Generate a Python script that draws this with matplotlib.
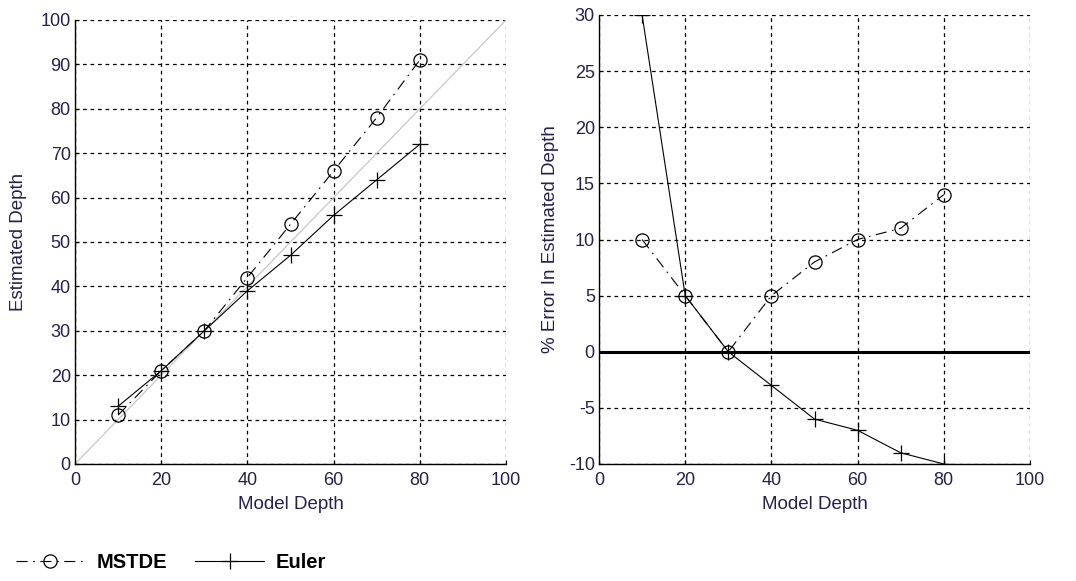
import numpy as np
import matplotlib.pyplot as plt

model_depth = [10, 20, 30, 40, 50, 60, 70, 80]
mstde_depth = [11, 21, 30, 42, 54, 66, 78, 91]
euler_depth = [13, 21, 30, 39, 47, 56, 64, 72]
mstde_err = [10, 5, 0, 5, 8, 10, 11, 14]
euler_err = [30, 5, 0, -3, -6, -7, -9, -10]

text_col = '#26204a'

plt.rcParams.update({
    'font.family': ['Liberation Sans', 'DejaVu Sans'],
    'font.size': 13,
    'axes.unicode_minus': False,
    'xtick.color': 'black',
    'ytick.color': 'black',
    'xtick.labelcolor': text_col,
    'ytick.labelcolor': text_col,
    'xtick.direction': 'in',
    'ytick.direction': 'in',
    'xtick.major.size': 3,
    'ytick.major.size': 3,
})

W, H = 1076, 581
fig = plt.figure(figsize=(W / 100, H / 100), dpi=100)

dashdot = (0, (10, 5, 1.5, 5))


def make_axes(x0, y0, x1, y1):
    return fig.add_axes([x0 / W, 1 - y1 / H, (x1 - x0) / W, (y1 - y0) / H])


def style(ax):
    ax.grid(True, color='black', linestyle=(0, (3, 3)), linewidth=0.9)
    ax.set_axisbelow(True)
    for s in ['top', 'right']:
        ax.spines[s].set_visible(False)
    for s in ['left', 'bottom']:
        ax.spines[s].set_linewidth(1.0)
    ax.tick_params(labelsize=13)
    ax.tick_params(axis='x', pad=6)
    ax.tick_params(axis='y', pad=3)


# left panel
ax1 = make_axes(75, 20, 506, 464)
ax1.plot([0, 100], [0, 100], color='#c8c8c8', linewidth=0.9)
m_line, = ax1.plot(model_depth, mstde_depth, color='black', linestyle=dashdot,
                   linewidth=0.8, marker='o', markersize=9.5,
                   markerfacecolor='none', markeredgewidth=0.9)
e_line, = ax1.plot(model_depth, euler_depth, color='black', linestyle='-',
                   linewidth=0.8, marker='+', markersize=11,
                   markeredgewidth=0.9)
ax1.set_xlim(0, 100)
ax1.set_ylim(0, 100)
ax1.set_xticks(np.arange(0, 101, 20))
ax1.set_yticks(np.arange(0, 101, 10))
style(ax1)
ax1.set_xlabel('Model Depth', fontsize=13.5, color=text_col, labelpad=5)
ax1.set_ylabel('Estimated Depth', fontsize=13.5, color=text_col, labelpad=10)

# right panel
ax2 = make_axes(599, 15, 1030, 464)
ax2.axhline(0, color='black', linewidth=2.2)
ax2.plot(model_depth, mstde_err, color='black', linestyle=dashdot,
         linewidth=0.8, marker='o', markersize=9.5,
         markerfacecolor='none', markeredgewidth=0.9)
ax2.plot(model_depth, euler_err, color='black', linestyle='-',
         linewidth=0.8, marker='+', markersize=11, markeredgewidth=0.9)
ax2.set_xlim(0, 100)
ax2.set_ylim(-10, 30)
ax2.set_xticks(np.arange(0, 101, 20))
ax2.set_yticks(np.arange(-10, 31, 5))
style(ax2)
ax2.set_xlabel('Model Depth', fontsize=13.5, color=text_col, labelpad=5)
ax2.set_ylabel('% Error In Estimated Depth', fontsize=13.5, color=text_col,
               labelpad=7)

# legend below the panels
leg = fig.legend([m_line, e_line], ['MSTDE', 'Euler'], loc='lower left',
                 bbox_to_anchor=(0.0, -0.012), ncol=2, frameon=False,
                 handlelength=3.4, handletextpad=0.6, columnspacing=1.4,
                 borderpad=0.3, prop={'weight': 'bold', 'size': 14.5})

fig.savefig('out.png', dpi=100)
